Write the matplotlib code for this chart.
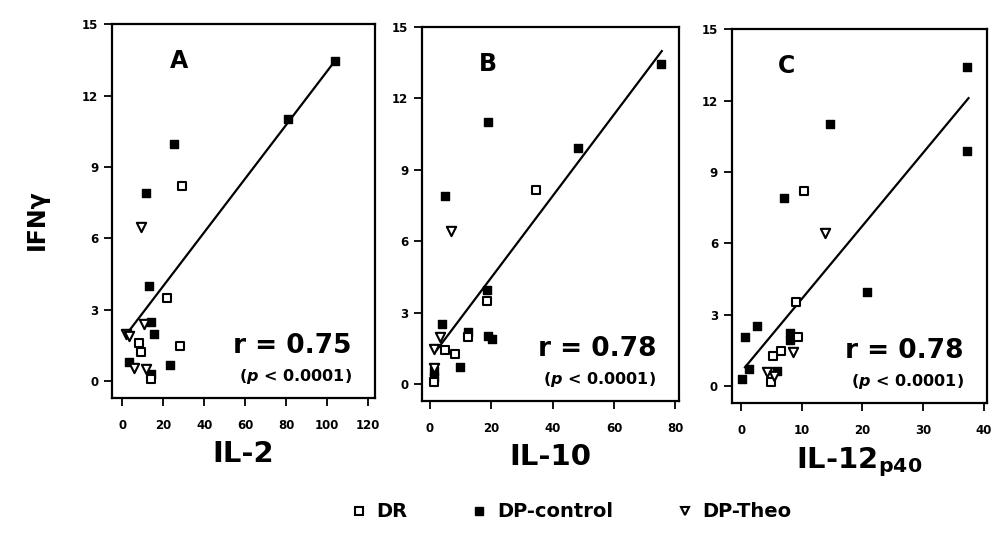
import matplotlib
matplotlib.use("Agg")
import matplotlib.pyplot as plt
from matplotlib.lines import Line2D

plt.rcParams['font.family'] = ['DejaVu Sans']
plt.rcParams['font.weight'] = 'bold'
plt.rcParams['mathtext.fontset'] = 'custom'
plt.rcParams['mathtext.rm'] = 'DejaVu Sans:bold'
plt.rcParams['mathtext.bf'] = 'DejaVu Sans:bold'
plt.rcParams['mathtext.it'] = 'DejaVu Sans:italic:bold'

# Panel A: IL-2 vs IFNy
il2_dr_x = [28.9, 21.7, 28.2, 8.2, 9.3, 13.9]
il2_dr_y = [8.2, 3.5, 1.5, 1.6, 1.25, 0.1]
il2_ctl_x = [103.7, 81.1, 25.0, 11.4, 13.0, 13.9, 15.5, 3.3, 23.3, 13.9]
il2_ctl_y = [13.45, 11.0, 9.95, 7.9, 4.0, 2.5, 2.0, 0.8, 0.7, 0.3]
il2_theo_x = [9.3, 10.6, 1.6, 3.3, 5.7, 11.8]
il2_theo_y = [6.5, 2.4, 2.0, 1.9, 0.55, 0.5]
il2_fit_x = [1.6, 103.7]
il2_fit_y = [1.93, 13.44]

# Panel B: IL-10 vs IFNy
il10_dr_x = [34.5, 18.6, 12.3, 4.9, 8.2, 1.4]
il10_dr_y = [8.17, 3.48, 2.0, 1.44, 1.26, 0.11]
il10_ctl_x = [75.4, 18.8, 48.2, 4.9, 18.6, 4.0, 12.3, 18.8, 20.3, 9.8, 1.4, 1.4]
il10_ctl_y = [13.43, 11.0, 9.93, 7.92, 3.97, 2.54, 2.2, 2.03, 1.89, 0.74, 0.55, 0.3]
il10_theo_x = [6.9, 3.3, 1.4, 1.4]
il10_theo_y = [6.45, 2.0, 1.5, 0.67]
il10_fit_x = [2.2, 75.6]
il10_fit_y = [1.44, 13.99]

# Panel C: IL-12p40 vs IFNy
il12_dr_x = [10.3, 9.0, 9.3, 6.6, 5.2, 4.9]
il12_dr_y = [8.22, 3.53, 2.06, 1.5, 1.29, 0.17]
il12_ctl_x = [37.3, 37.3, 14.6, 7.0, 20.7, 2.7, 0.6, 8.0, 8.0, 1.3, 5.9, 0.1]
il12_ctl_y = [13.4, 9.9, 11.02, 7.9, 3.95, 2.55, 2.09, 2.23, 1.95, 0.73, 0.66, 0.31]
il12_theo_x = [13.8, 8.5, 4.3, 5.5]
il12_theo_y = [6.44, 1.46, 0.59, 0.45]
il12_fit_x = [0.64, 37.5]
il12_fit_y = [0.8, 12.1]

panels = [
    ("A", "IL-2", (il2_dr_x, il2_dr_y), (il2_ctl_x, il2_ctl_y), (il2_theo_x, il2_theo_y),
     (il2_fit_x, il2_fit_y), "r = 0.75", (-5, 123.5), range(0, 121, 20)),
    ("B", "IL-10", (il10_dr_x, il10_dr_y), (il10_ctl_x, il10_ctl_y), (il10_theo_x, il10_theo_y),
     (il10_fit_x, il10_fit_y), "r = 0.78", (-2.6, 81.3), range(0, 81, 20)),
    ("C", r"IL-12$_{\mathbf{p40}}$", (il12_dr_x, il12_dr_y), (il12_ctl_x, il12_ctl_y),
     (il12_theo_x, il12_theo_y), (il12_fit_x, il12_fit_y), "r = 0.78", (-1.5, 40.5), range(0, 41, 10)),
]

# axes boxes in figure fractions (scan is slightly tilted, so bottoms differ)
boxes = [
    [0.1124, 0.256, 0.264, 0.699],
    [0.4233, 0.2505, 0.258, 0.699],
    [0.7342, 0.2467, 0.2555, 0.699],
]
letter_x = [0.22, 0.22, 0.18]

fig = plt.figure(figsize=(9.97, 5.35), dpi=100)

for (letter, xlabel, dr, ctl, theo, fit, rtext, xlim, xticks), box, lx in zip(panels, boxes, letter_x):
    ax = fig.add_axes(box)
    ax.plot(fit[0], fit[1], color='black', lw=1.6, zorder=2)
    ax.scatter(ctl[0], ctl[1], marker='s', s=40, color='black', zorder=3)
    ax.scatter(dr[0], dr[1], marker='s', s=40, facecolor='white', edgecolor='black',
               linewidths=1.5, zorder=4)
    ax.scatter(theo[0], theo[1], marker='v', s=45, facecolor='white', edgecolor='black',
               linewidths=1.5, zorder=4)

    ax.set_xlim(*xlim)
    ax.set_ylim(-0.7, 15)
    ax.set_xticks(list(xticks))
    ax.set_yticks(range(0, 16, 3))
    ax.tick_params(direction='out', length=6, width=1.3, labelsize=8.5)
    ax.tick_params(axis='x', pad=9)
    ax.tick_params(axis='y', pad=4)
    for lab in ax.get_xticklabels() + ax.get_yticklabels():
        lab.set_fontweight('bold')
    for sp in ax.spines.values():
        sp.set_linewidth(1.6)

    ax.set_xlabel(xlabel, fontsize=21, fontweight='bold', labelpad=6)
    ax.text(lx, 0.90, letter, transform=ax.transAxes,
            fontsize=17, fontweight='bold', ha='left', va='center')
    ax.text(0.91, 0.14, rtext, transform=ax.transAxes, fontsize=19,
            fontweight='bold', ha='right', va='center')
    ax.text(0.91, 0.058, r"($\it{p}$ < 0.0001)", transform=ax.transAxes,
            fontsize=11.5, fontweight='bold', ha='right', va='center')

fig.text(0.037, 0.59, "IFNγ", rotation=90, fontsize=17, fontweight='bold',
         ha='center', va='center')

# legend
handles = [
    Line2D([], [], ls='none', marker='s', ms=6, mfc='white', mec='black', mew=1.5),
    Line2D([], [], ls='none', marker='s', ms=6, mfc='black', mec='black'),
    Line2D([], [], ls='none', marker='v', ms=6, mfc='white', mec='black', mew=1.5),
]
fig.legend(handles, ["DR", "DP-control", "DP-Theo"], loc='center',
           bbox_to_anchor=(0.572, 0.043), ncol=3, frameon=False,
           prop={'size': 14, 'weight': 'bold'}, columnspacing=3.2,
           handletextpad=0.4, handlelength=1.0)

plt.savefig("out.png", dpi=100)
